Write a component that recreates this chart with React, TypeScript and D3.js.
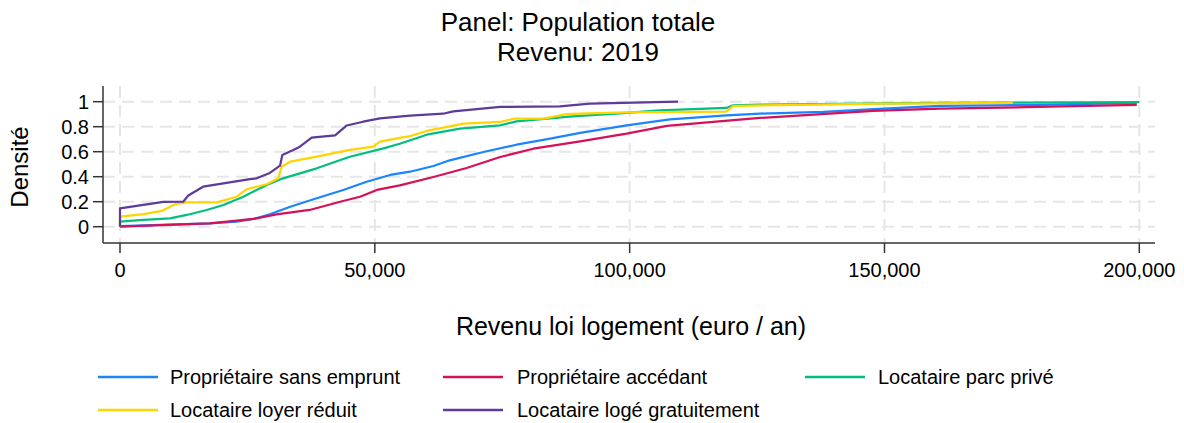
import React from "react";
import * as d3 from "d3";

const titleLines = ["Panel: Population totale", "Revenu: 2019"];
const xTitle = "Revenu loi logement (euro / an)";
const yTitle = "Densité";
const xTicks = [0, 50000, 100000, 150000, 200000];
const yTicks = [0, 0.2, 0.4, 0.6, 0.8, 1];

const seriesNames = [
  "Propriétaire sans emprunt",
  "Propriétaire accédant",
  "Locataire parc privé",
  "Locataire loyer réduit",
  "Locataire logé gratuitement",
];
const seriesColors = ["#1a85ff", "#d41159", "#00bf7f", "#ffd400", "#5d3a9b"];

const blueX = [0, 17600, 22900, 26200, 29400, 33400, 38600, 43800, 48400, 53000, 56900, 61500, 64700, 71300, 77800, 84400, 90300, 99400, 107900, 119000, 125600, 138000, 149800, 160900, 180000, 199500];
const blueY = [0.005, 0.027, 0.04, 0.062, 0.1, 0.16, 0.227, 0.294, 0.36, 0.414, 0.44, 0.486, 0.531, 0.598, 0.656, 0.704, 0.75, 0.811, 0.859, 0.891, 0.905, 0.918, 0.944, 0.966, 0.975, 0.99];

const redX = [0, 17600, 22900, 26200, 30700, 37200, 43200, 47100, 50400, 54900, 61500, 68000, 74600, 81100, 90300, 99400, 107300, 116400, 125600, 147800, 160900, 180000, 199500];
const redY = [0, 0.027, 0.048, 0.062, 0.099, 0.134, 0.2, 0.24, 0.294, 0.331, 0.398, 0.47, 0.558, 0.624, 0.683, 0.744, 0.806, 0.838, 0.87, 0.926, 0.944, 0.958, 0.975];

const greenX = [0, 0, 4600, 9800, 13100, 17000, 20300, 24200, 26800, 28800, 32000, 38600, 45100, 51700, 54900, 60200, 66700, 74600, 77800, 87600, 90300, 97400, 105900, 119000, 120300, 125600, 160000, 200000];
const greenY = [0, 0.04, 0.054, 0.067, 0.094, 0.134, 0.174, 0.24, 0.294, 0.334, 0.387, 0.467, 0.56, 0.627, 0.664, 0.736, 0.784, 0.811, 0.843, 0.878, 0.886, 0.904, 0.93, 0.95, 0.971, 0.976, 0.99, 0.997];

const yellowX = [0, 0, 4600, 8200, 10800, 13100, 19000, 22900, 24900, 28800, 31100, 31700, 33400, 38600, 45100, 49700, 51000, 54900, 56900, 60200, 67400, 74600, 77200, 83100, 87600, 90300, 99400, 119000, 120300, 125600, 150000, 175200];
const yellowY = [0, 0.08, 0.1, 0.126, 0.18, 0.195, 0.195, 0.24, 0.3, 0.34, 0.387, 0.48, 0.52, 0.56, 0.614, 0.64, 0.68, 0.71, 0.725, 0.766, 0.824, 0.838, 0.864, 0.864, 0.9, 0.904, 0.915, 0.92, 0.965, 0.971, 0.985, 0.99];

const purpleX = [0, 0, 8500, 12400, 13400, 16300, 25500, 26800, 29400, 31400, 31850, 34000, 35300, 37600, 42200, 44500, 47700, 51000, 56900, 63400, 65400, 74600, 86300, 92200, 109500];
const purpleY = [0, 0.147, 0.198, 0.2, 0.25, 0.32, 0.38, 0.387, 0.43, 0.488, 0.574, 0.614, 0.64, 0.712, 0.73, 0.81, 0.84, 0.867, 0.888, 0.904, 0.923, 0.958, 0.963, 0.984, 1.0];

const seriesX = [blueX, redX, greenX, yellowX, purpleX];
const seriesY = [blueY, redY, greenY, yellowY, purpleY];

const W = 1184;
const H = 423;
const FONT = "'Liberation Sans', Arial, Helvetica, sans-serif";

export default function App() {
  const x = d3.scaleLinear().domain([0, 200000]).range([120, 1139.3]);
  const y = d3.scaleLinear().domain([0, 1]).range([226.7, 101.7]);
  const axisLeft = 103;
  const axisRight = 1155;
  const axisBottom = 243;
  const axisTop = 86;
  const fmt = d3.format(",");
  const line = d3
    .line<[number, number]>()
    .x((d) => x(d[0]))
    .y((d) => y(d[1]));

  const legendItems = [
    { i: 0, lx: 98, tx: 170, ly: 377 },
    { i: 1, lx: 443, tx: 517, ly: 377 },
    { i: 2, lx: 805, tx: 878, ly: 377 },
    { i: 3, lx: 98, tx: 170, ly: 410 },
    { i: 4, lx: 443, tx: 517, ly: 410 },
  ];

  return (
    <svg
      width={W}
      height={H}
      style={{ position: "absolute", left: 0, top: 0, background: "#fff" }}
      fontFamily={FONT}
    >
      <rect x={0} y={0} width={W} height={H} fill="#fff" />
      {/* grid */}
      {yTicks.map((t) => (
        <line
          key={"gy" + t}
          x1={axisLeft}
          x2={axisRight}
          y1={y(t)}
          y2={y(t)}
          stroke="#e6e6e6"
          strokeWidth={2}
          strokeDasharray="12,7"
        />
      ))}
      {xTicks.map((t) => (
        <line
          key={"gx" + t}
          x1={x(t)}
          x2={x(t)}
          y1={axisTop}
          y2={axisBottom}
          stroke="#e6e6e6"
          strokeWidth={2}
          strokeDasharray="12,7"
        />
      ))}
      {/* series */}
      {seriesX.map((xs, i) => (
        <path
          key={"s" + i}
          d={line(xs.map((v, j) => [v, seriesY[i][j]] as [number, number])) || ""}
          fill="none"
          stroke={seriesColors[i]}
          strokeWidth={2.2}
          strokeLinejoin="round"
        />
      ))}
      {/* axes */}
      <line x1={axisLeft} x2={axisRight} y1={axisBottom} y2={axisBottom} stroke="#333" strokeWidth={1.5} />
      <line x1={axisLeft} x2={axisLeft} y1={axisTop} y2={axisBottom} stroke="#333" strokeWidth={1.5} />
      {xTicks.map((t) => (
        <g key={"xt" + t}>
          <line x1={x(t)} x2={x(t)} y1={axisBottom} y2={axisBottom + 10} stroke="#333" strokeWidth={1.5} />
          <text x={x(t)} y={277} textAnchor="middle" fontSize={20} fill="#000">
            {fmt(t)}
          </text>
        </g>
      ))}
      {yTicks.map((t) => (
        <g key={"yt" + t}>
          <line x1={axisLeft - 10} x2={axisLeft} y1={y(t)} y2={y(t)} stroke="#333" strokeWidth={1.5} />
          <text x={89} y={y(t) + 7} textAnchor="end" fontSize={20} fill="#000">
            {String(t)}
          </text>
        </g>
      ))}
      {/* titles */}
      <text x={578} y={31} textAnchor="middle" fontSize={26} fill="#000">
        {titleLines[0]}
      </text>
      <text x={578} y={60.5} textAnchor="middle" fontSize={26} fill="#000">
        {titleLines[1]}
      </text>
      <text x={631} y={335} textAnchor="middle" fontSize={25} fill="#000">
        {xTitle}
      </text>
      <text
        transform={`translate(28,167) rotate(-90)`}
        textAnchor="middle"
        fontSize={24}
        fill="#000"
      >
        {yTitle}
      </text>
      {/* legend */}
      {legendItems.map((it) => (
        <g key={"lg" + it.i}>
          <line
            x1={it.lx}
            x2={it.lx + 60}
            y1={it.ly}
            y2={it.ly}
            stroke={seriesColors[it.i]}
            strokeWidth={2.5}
          />
          <text x={it.tx} y={it.ly + 7} fontSize={20} fill="#000">
            {seriesNames[it.i]}
          </text>
        </g>
      ))}
    </svg>
  );
}
